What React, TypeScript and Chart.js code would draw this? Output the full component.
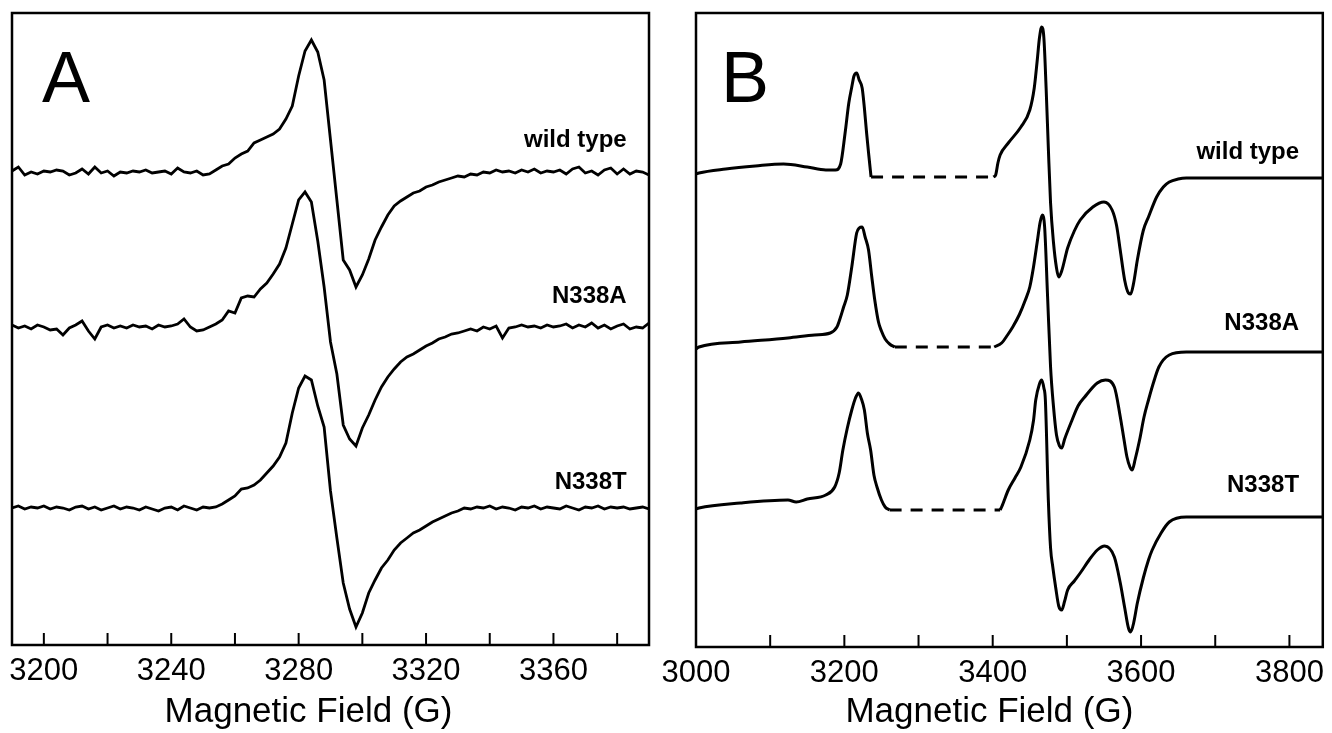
import React, { useEffect, useRef } from 'react';
import { Chart, registerables } from 'chart.js';

Chart.register(...registerables);

const FONT = '"Liberation Sans", Arial, Helvetica, sans-serif';
const AXIS_TITLE = 'Magnetic Field (G)';
const traceNames = ['wild type', 'N338A', 'N338T'];

// ---------------- Panel A (derivative EPR, g~2 region) ----------------
const fieldA = [
  3190, 3192, 3194, 3196, 3198, 3200, 3202, 3204, 3206, 3208,
  3210, 3212, 3214, 3216, 3218, 3220, 3222, 3224, 3226, 3228,
  3230, 3232, 3234, 3236, 3238, 3240, 3242, 3244, 3246, 3248,
  3250, 3252, 3254, 3256, 3258, 3260, 3262, 3264, 3266, 3268,
  3270, 3272, 3274, 3276, 3278, 3280, 3282, 3284, 3286, 3288,
  3290, 3292, 3294, 3296, 3298, 3300, 3302, 3304, 3306, 3308,
  3310, 3312, 3314, 3316, 3318, 3320, 3322, 3324, 3326, 3328,
  3330, 3332, 3334, 3336, 3338, 3340, 3342, 3344, 3346, 3348,
  3350, 3352, 3354, 3356, 3358, 3360, 3362, 3364, 3366, 3368,
  3370, 3372, 3374, 3376, 3378, 3380, 3382, 3384, 3386, 3388,
  3390,
];

const wildTypeA = [
  0.2, 1.0, -0.6, 0.0, -0.4, 0.2, 0.0, 0.4, 0.2, -0.6,
  -0.2, 0.6, -0.4, 1.0, -0.2, 0.2, -0.8, 0.0, -0.2, 0.2,
  0.0, 0.4, -0.2, 0.0, 0.2, -0.4, 0.8, 0.0, -0.2, 0.2,
  -0.6, -0.4,
  0.4, 1.2, 1.6, 2.8, 3.6, 4.2, 5.8, 6.4, 7.0, 7.6,
  8.6, 10.6, 13.2, 19.2, 24.2, 26.4, 24.0, 18.4, 6.4, -5.6,
  -17.6, -19.6, -23.0, -20.6, -17.4, -13.6, -11.0, -8.6, -6.8, -5.8,
  -5.0, -4.2, -3.8, -3.0, -2.6, -2.0, -1.6, -1.2, -0.8,
  -1.0, -0.4, -0.6, 0.0, -0.2, 0.4, 0.0, 0.2, -0.2, 0.4,
  0.0, 0.6, -0.2, 0.2, 0.0, 0.4, -0.4, 0.6, 1.0, -0.2,
  0.2, -0.6, 0.4, 0.8, -0.4, 0.6, -0.4, 0.2, 0.0, -0.6,
];

const n338aA = [
  0.4, -0.2, 0.2, -0.4, 0.4, 0.0, -0.6, -0.4, -1.6, -0.2,
  0.4, 1.2, -0.8, -2.4, 0.0, 0.4, -0.2, 0.2, -0.2, 0.4,
  0.0, 0.2, -0.4, 0.4, 0.0, 0.2, 0.6, 1.6, 0.0, -0.8,
  -0.6, 0.0,
  0.6, 1.4, 3.2, 2.8, 5.8, 6.2, 6.0, 7.6, 8.8, 10.6,
  12.6, 15.8, 20.6, 25.4, 27.0, 25.0, 17.2, 8.0, -3.0, -9.4,
  -19.6, -22.4, -23.8, -20.2, -17.6, -14.6, -12.0, -10.0, -8.4, -7.0,
  -6.0, -5.4, -4.6, -3.8, -3.2, -2.4, -2.0, -1.4, -1.2,
  -0.8, -0.4, -0.8, 0.0, -0.4, 0.2, -2.2, -0.2, 0.0, 0.4,
  0.0, 0.2, -0.2, 0.4, 0.0, 0.2, 0.6, -0.2, 0.4, 0.0,
  0.8, -0.2, 0.4, -0.4, 0.2, 0.6, -0.4, 0.0, -0.2, 0.8,
];

const n338tA = [
  0.0, 0.4, -0.2, 0.2, 0.0, 0.4, -0.2, 0.2, 0.0, -0.4,
  0.2, 0.4, -0.2, 0.2, -0.4, 0.0, 0.4, -0.2, 0.2, 0.0,
  -0.4, 0.2, -0.2, -0.6, 0.0, 0.2, -0.4, 0.4, 0.0, -0.4,
  0.2, 0.0,
  0.2, 0.8, 1.6, 2.4, 3.8, 4.0, 4.6, 5.6, 7.0, 8.4,
  10.2, 13.0, 19.0, 24.0, 26.4, 25.6, 20.4, 16.2, 3.4, -6.0,
  -15.0, -20.2, -23.8, -21.0, -17.0, -14.4, -12.0, -10.4, -8.4, -7.0,
  -6.0, -5.0, -4.4, -3.6, -2.8, -2.2, -1.6, -1.0, -0.6,
  0.0, -0.2, 0.2, 0.0, 0.4, -0.2, 0.2, 0.0, -0.4, 0.2,
  0.0, 0.4, -0.2, 0.2, 0.0, -0.2, 0.4, 0.0, -0.4, 0.2,
  0.0, 0.4, -0.2, 0.2, 0.0, 0.2, -0.2, 0.0, 0.2, -0.2,
];

const offsetsA = [94.6, 63.6, 27.4];
const labelLevelsA = [101, 69.8, 32.6];
const labelFieldA = 3383;
const rangeA = [3190, 3390];
const tickValuesA = [3200, 3220, 3240, 3260, 3280, 3300, 3320, 3340, 3360, 3380];
const labelStepA = 40;
const intensityMaxA = 126.4;

// ---------------- Panel B (wide scan, gap shown dashed) ----------------
type Pair = [number, number];

const wildTypeB1: Pair[] = [
  [3000, -0.2], [3004, 0], [3040, 0.8], [3080, 1.4], [3118, 1.8], [3150, 1.2],
  [3175, 0.6], [3188, 0.6], [3195, 1.8], [3201, 8.0], [3206, 14.0], [3210, 17.2],
  [3213, 19.4], [3216.6, 20.0], [3220, 18.6], [3224, 17.0], [3227, 13.0],
  [3230, 8.0], [3233, 3.5], [3236, -0.8],
];
const wildTypeB2: Pair[] = [
  [3401, -0.8], [3404, -0.4], [3407, 2.0], [3410, 3.6], [3421, 6.0], [3438, 9.2],
  [3450, 12.6], [3456, 17.0], [3460, 22.5], [3463, 27.0], [3466, 29.2], [3469, 27.0],
  [3472, 17.0], [3475, 5.0], [3478, -6.0], [3482, -14.0], [3486, -19.0], [3489, -20.8],
  [3493, -19.6], [3501, -15.0], [3510, -11.6], [3518, -9.4], [3535, -6.8], [3550, -5.8],
  [3561, -7.4], [3567, -10.5], [3572, -15.5], [3578, -21.5], [3583, -24.0], [3586, -24.2],
  [3590, -22.0], [3595, -17.4], [3603, -11.5], [3610, -8.8], [3621, -4.8], [3630, -2.8],
  [3638, -1.8], [3650, -1.2], [3661, -1.0], [3845, -1.0],
];

const n338aB1: Pair[] = [
  [3000, -0.4], [3004, 0], [3060, 1.0], [3124, 1.8], [3160, 2.4], [3181, 2.8],
  [3190, 4.0], [3194, 5.6], [3199, 8.0], [3204, 10.4], [3210, 16.0], [3216.6, 22.8],
  [3220, 23.8], [3224, 24.0], [3228, 22.0], [3232.6, 19.4], [3237, 14.0], [3241, 9.4],
  [3246, 5.0], [3250, 3.2], [3255, 1.6], [3261, 0.6], [3268, 0],
];
const n338aB2: Pair[] = [
  [3402, 0], [3412, 0.8], [3420, 2.4], [3427, 4.0], [3436, 6.5], [3444, 9.4],
  [3450, 12.0], [3455, 16.0], [3460, 21.0], [3464, 25.0], [3467, 26.4], [3470, 24.0],
  [3474, 10.0], [3478, -4.0], [3482, -12.0], [3486, -17.6], [3490, -19.8], [3493, -20.2],
  [3497, -18.4], [3507, -14.6], [3515, -11.8], [3524, -10.0], [3541, -7.2], [3552, -6.6],
  [3564, -8.0], [3572, -14.0], [3577, -18.5], [3581, -22.0], [3585, -24.0], [3588, -24.6],
  [3592, -22.5], [3598, -18.6], [3604, -14.0], [3610, -10.6], [3617, -7.0], [3624, -4.0],
  [3638, -1.6], [3661, -1.0], [3845, -1.0],
];

const n338tB1: Pair[] = [
  [3000, -0.2], [3004, 0], [3060, 1.0], [3124, 1.6], [3135, 1.2], [3150, 1.8],
  [3175, 2.6], [3187, 4.2], [3193, 7.0], [3198, 11.6], [3204, 16.0], [3210, 19.6],
  [3215, 22.0], [3219, 23.0], [3223, 21.8], [3227, 19.6], [3231, 15.0], [3235.4, 11.6],
  [3240, 6.5], [3244, 4.2], [3250, 1.6], [3255, 0.2], [3261, -0.4],
];
const n338tB2: Pair[] = [
  [3410, -0.4], [3412, 0.2], [3421, 3.6], [3430, 6.0], [3438, 8.2], [3450, 13.6],
  [3455, 17.5], [3458, 21.6], [3463, 24.8], [3466, 25.6], [3469, 24.0], [3471, 21.6],
  [3475, 1.6], [3478, -8.0], [3481, -11.8], [3485, -16.0], [3489, -19.6], [3493, -20.4],
  [3497, -18.6], [3501, -16.4], [3510, -14.6], [3518, -13.0], [3530, -10.4], [3541, -8.4],
  [3551, -7.6], [3564, -9.8], [3572, -15.0], [3578, -20.0], [3583, -24.0], [3586, -24.8],
  [3590, -23.0], [3595, -19.0], [3603, -14.0], [3610, -10.4], [3615, -8.4], [3627, -5.0],
  [3638, -2.8], [3661, -1.8], [3845, -1.8],
];

const offsetsB = [94.8, 60.0, 27.8];
const labelLevelsB = [99, 64.8, 32.4];
const labelFieldB = 3813;
const rangeB = [3000, 3845];
const tickValuesB = [3000, 3100, 3200, 3300, 3400, 3500, 3600, 3700, 3800];
const labelStepB = 200;
const intensityMaxB = 126.8;

// ---------------- helpers ----------------
const BLACK = '#000000';

function solid(points: { x: number; y: number }[], width: number) {
  return {
    data: points,
    borderColor: BLACK,
    borderWidth: width,
    pointRadius: 0,
    fill: false,
    tension: 0,
  };
}

function smooth(points: { x: number; y: number }[]) {
  return {
    data: points,
    borderColor: BLACK,
    borderWidth: 3,
    pointRadius: 0,
    fill: false,
    cubicInterpolationMode: 'monotone',
  };
}

function dashed(a: Pair[], b: Pair[], offset: number) {
  const from = a[a.length - 1];
  const to = b[0];
  return {
    data: [
      { x: from[0], y: from[1] + offset },
      { x: to[0], y: from[1] + offset },
    ],
    borderColor: BLACK,
    borderWidth: 3,
    borderDash: [12, 9],
    pointRadius: 0,
    fill: false,
  };
}

const shift = (pairs: Pair[], offset: number) => pairs.map(([x, y]) => ({ x, y: y + offset }));

function decorPlugin(letter: string, levels: number[], labelField: number, letterDx: number, titleShift: number) {
  return {
    id: 'decor' + letter,
    afterDatasetsDraw(chart: any) {
      const { ctx, chartArea: a, scales } = chart;
      const xs = scales.x;
      const ys = scales.y;
      ctx.save();
      ctx.strokeStyle = BLACK;
      ctx.lineWidth = 2;
      xs.ticks.forEach((t: any) => {
        const px = xs.getPixelForValue(t.value);
        if (px <= a.left + 2 || px >= a.right - 2) return;
        ctx.beginPath();
        ctx.moveTo(px, a.bottom);
        ctx.lineTo(px, a.bottom - 12);
        ctx.stroke();
      });
      ctx.lineWidth = 2.5;
      ctx.strokeRect(a.left, a.top, a.right - a.left, a.bottom - a.top);

      ctx.fillStyle = BLACK;
      ctx.font = `bold 24px ${FONT}`;
      ctx.textAlign = 'right';
      ctx.textBaseline = 'middle';
      traceNames.forEach((name, i) => {
        ctx.fillText(name, xs.getPixelForValue(labelField), ys.getPixelForValue(levels[i]));
      });

      ctx.font = `72px ${FONT}`;
      ctx.textAlign = 'left';
      ctx.textBaseline = 'alphabetic';
      ctx.fillText(letter, a.left + letterDx, a.top + 89);

      ctx.font = `35px ${FONT}`;
      ctx.textAlign = 'center';
      ctx.textBaseline = 'middle';
      ctx.fillText(AXIS_TITLE, (a.left + a.right) / 2 - titleShift, xs.bottom - 21);
      ctx.restore();
    },
  };
}

function baseOptions(
  range: number[],
  tickValues: number[],
  labelStep: number,
  ymax: number,
  padding: { left: number; right: number; top: number; bottom: number },
  axisHeight: number
) {
  return {
    animation: false,
    responsive: false,
    maintainAspectRatio: false,
    layout: { padding },
    plugins: { legend: { display: false }, tooltip: { enabled: false }, title: { display: false } },
    scales: {
      x: {
        type: 'linear',
        min: range[0],
        max: range[1],
        grid: { display: false, drawTicks: false },
        border: { display: false },
        afterBuildTicks: (s: any) => {
          s.ticks = tickValues.map((v) => ({ value: v }));
        },
        ticks: {
          autoSkip: false,
          maxRotation: 0,
          minRotation: 0,
          padding: 8,
          color: BLACK,
          font: { family: FONT, size: 31 },
          callback: (v: number) => (Math.round(v) % labelStep === 0 ? String(Math.round(v)) : ''),
        },
        title: { display: false },
        afterFit: (s: any) => {
          s.height = axisHeight;
        },
      },
      y: { type: 'linear', display: false, min: 0, max: ymax },
    },
  };
}

function configA() {
  const series = [wildTypeA, n338aA, n338tA];
  const datasets = series.map((s, k) =>
    solid(fieldA.map((x, i) => ({ x, y: s[i] + offsetsA[k] })), 2.8)
  );
  return {
    type: 'line',
    data: { datasets },
    options: baseOptions(rangeA, tickValuesA, labelStepA, intensityMaxA, { left: 12, right: 17, top: 13, bottom: 0 }, 88),
    plugins: [decorPlugin('A', labelLevelsA, labelFieldA, 30, 22)],
  };
}

function configB() {
  const segs: [Pair[], Pair[]][] = [
    [wildTypeB1, wildTypeB2],
    [n338aB1, n338aB2],
    [n338tB1, n338tB2],
  ];
  const datasets: any[] = [];
  segs.forEach(([s1, s2], k) => {
    datasets.push(smooth(shift(s1, offsetsB[k])));
    datasets.push(dashed(s1, s2, offsetsB[k]));
    datasets.push(smooth(shift(s2, offsetsB[k])));
  });
  return {
    type: 'line',
    data: { datasets },
    options: baseOptions(rangeB, tickValuesB, labelStepB, intensityMaxB, { left: 46, right: 2, top: 13, bottom: 0 }, 86),
    plugins: [decorPlugin('B', labelLevelsB, labelFieldB, 25, 20)],
  };
}

function Panel({ build, left, width }: { build: () => any; left: number; width: number }) {
  const ref = useRef<HTMLCanvasElement | null>(null);
  useEffect(() => {
    if (!ref.current) return;
    const chart = new Chart(ref.current, build());
    return () => chart.destroy();
  }, [build]);
  return (
    <canvas
      ref={ref}
      width={width}
      height={733}
      style={{ position: 'absolute', left, top: 0, width, height: 733 }}
    />
  );
}

export default function App() {
  return (
    <div style={{ position: 'absolute', left: 0, top: 0, width: 1332, height: 733, background: '#ffffff', overflow: 'hidden' }}>
      <Panel build={configA} left={0} width={666} />
      <Panel build={configB} left={650} width={682} />
    </div>
  );
}
